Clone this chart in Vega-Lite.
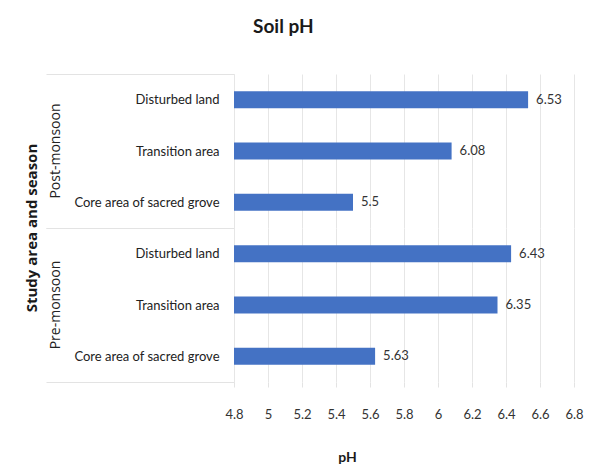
{
  "$schema": "https://vega.github.io/schema/vega-lite/v6.json",
  "padding": {"left": 24, "top": 18, "right": 10, "bottom": 8},
  "background": "#ffffff",
  "title": {
    "text": "Soil pH",
    "fontSize": 19,
    "fontWeight": "bold",
    "font": "Lato",
    "color": "#1a1a1a",
    "anchor": "start",
    "dx": 228,
    "offset": 31
  },
  "data": {
    "values": [
      {"season": "Post-monsoon", "area": "Disturbed land", "pH": 6.53},
      {"season": "Post-monsoon", "area": "Transition area", "pH": 6.08},
      {"season": "Post-monsoon", "area": "Core area of sacred grove", "pH": 5.5},
      {"season": "Pre-monsoon", "area": "Disturbed land", "pH": 6.43},
      {"season": "Pre-monsoon", "area": "Transition area", "pH": 6.35},
      {"season": "Pre-monsoon", "area": "Core area of sacred grove", "pH": 5.63}
    ]
  },
  "facet": {
    "row": {
      "field": "season",
      "type": "nominal",
      "sort": ["Post-monsoon", "Pre-monsoon"],
      "title": "Study area and season",
      "header": {
        "labelOrient": "left",
        "labelAngle": -90,
        "labelAlign": "center",
        "labelFont": "Open Sans",
        "labelFontSize": 14,
        "labelColor": "#222222",
        "labelPadding": -24,
        "titleOrient": "left",
        "titleFont": "Open Sans",
        "titleFontSize": 15,
        "titleFontWeight": "bold",
        "titleColor": "#1a1a1a",
        "titlePadding": -5
      }
    }
  },
  "spacing": {"row": 0},
  "spec": {
    "width": 340,
    "height": 154,
    "encoding": {
      "y": {
        "field": "area",
        "type": "nominal",
        "sort": ["Disturbed land", "Transition area", "Core area of sacred grove"],
        "scale": {"paddingInner": 0, "paddingOuter": 0},
        "axis": {
          "title": null,
          "labelFont": "Lato",
          "labelFontSize": 13,
          "labelColor": "#222222",
          "labelPadding": -173,
          "domainColor": "#e3e3e3",
          "tickBand": "extent",
          "tickSize": 188,
          "tickColor": "#e3e3e3",
          "tickOpacity": {
            "condition": {"test": "datum.index >= 0 && datum.index < 1", "value": 0},
            "value": 1
          }
        }
      },
      "x": {
        "field": "pH",
        "type": "quantitative",
        "scale": {"domain": [4.8, 6.8], "zero": false, "nice": false},
        "axis": {
          "title": "pH",
          "titleFont": "Lato",
          "titleFontSize": 14,
          "titleFontWeight": "bold",
          "titleColor": "#1a1a1a",
          "titlePadding": 29,
          "titleX": 113,
          "values": [4.8, 5, 5.2, 5.4, 5.6, 5.8, 6, 6.2, 6.4, 6.6, 6.8],
          "format": "~g",
          "labelFont": "Lato",
          "labelFontSize": 13,
          "labelColor": "#333333",
          "labelPadding": 21,
          "labelOverlap": false,
          "labelFlush": false,
          "domain": false,
          "tickColor": "#e3e3e3",
          "tickSize": 5,
          "gridColor": "#e6e6e6"
        }
      }
    },
    "layer": [
      {
        "mark": {"type": "bar", "color": "#4472c4", "height": {"band": 0.33}},
        "encoding": {
          "x2": {"datum": 4.8}
        }
      },
      {
        "mark": {
          "type": "text",
          "align": "left",
          "baseline": "middle",
          "dx": 8,
          "font": "Lato",
          "fontSize": 13,
          "color": "#333333"
        },
        "encoding": {
          "text": {"field": "pH", "type": "quantitative", "format": "~g"}
        }
      }
    ]
  },
  "config": {
    "view": {"stroke": null}
  }
}
